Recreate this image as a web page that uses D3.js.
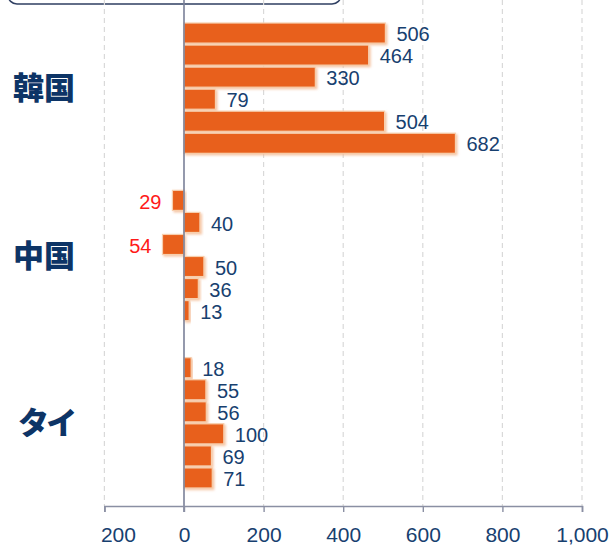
<!DOCTYPE html>
<html><head><meta charset="utf-8">
<script src="https://cdn.jsdelivr.net/npm/d3@7"></script>
<style>body{margin:0;background:#fff}svg{display:block}</style>
</head><body>
<script>
const categories = ["韓国", "中国", "タイ"];
const seriesNames = ["s1", "s2", "s3", "s4", "s5", "s6"];
const koreaValues = [506, 464, 330, 79, 504, 682];
const chinaValues = [-29, 40, -54, 50, 36, 13];
const thaiValues = [18, 55, 56, 100, 69, 71];
const tickValues = [-200, 0, 200, 400, 600, 800, 1000];
const tickLabels = ["200", "0", "200", "400", "600", "800", "1,000"];

const valuesByCategory = [koreaValues, chinaValues, thaiValues];
const data = [];
categories.forEach((c, i) => valuesByCategory[i].forEach((v, j) => data.push({cat: c, s: seriesNames[j], v})));

const W = 611, H = 547;
const svg = d3.select("body").append("svg").attr("width", W).attr("height", H);

const x = d3.scaleLinear().domain([-200, 1000]).range([104.4, 582]);
const yGroup = d3.scaleBand().domain(categories).range([4.5, 506.5]).paddingInner(0.2096).paddingOuter(0.1048);
const yInner = d3.scaleBand().domain(seriesNames).range([0, yGroup.bandwidth()]).paddingInner(0.09).paddingOuter(0.045);
const axisY = 506;

// cut-off legend box
svg.append("rect").attr("x", 8).attr("y", -30).attr("width", 333).attr("height", 34)
  .attr("rx", 9).attr("fill", "none").attr("stroke", "#2f3f62").attr("stroke-width", 1.5);

// gridlines
svg.append("g").selectAll("line").data(tickValues.filter(t => t !== 0)).join("line")
  .attr("x1", d => x(d)).attr("x2", d => x(d)).attr("y1", 0).attr("y2", axisY)
  .attr("stroke", "#d9d9d9").attr("stroke-width", 1.2).attr("stroke-dasharray", "5,4");

// shadow filter
const defs = svg.append("defs");
const f = defs.append("filter").attr("id", "sh").attr("x", "-10%").attr("y", "-20%").attr("width", "130%").attr("height", "160%");
f.append("feDropShadow").attr("dx", 1.5).attr("dy", 1.5).attr("stdDeviation", 1).attr("flood-color", "#f3b890").attr("flood-opacity", 0.8);

// bars
svg.append("g").selectAll("rect").data(data).join("rect")
  .attr("x", d => x(Math.min(0, d.v)))
  .attr("width", d => Math.abs(x(d.v) - x(0)))
  .attr("y", d => yGroup(d.cat) + yInner(d.s))
  .attr("height", yInner.bandwidth())
  .attr("fill", "#E8601A")
  .attr("stroke", "#f7cfae").attr("stroke-width", 1.2)
  .attr("filter", "url(#sh)");

// value labels
svg.append("g").selectAll("text").data(data).join("text")
  .attr("x", d => d.v < 0 ? x(d.v) - 11 : x(d.v) + 11)
  .attr("y", d => yGroup(d.cat) + yInner(d.s) + yInner.bandwidth() / 2 + 1)
  .attr("dy", "0.36em")
  .attr("text-anchor", d => d.v < 0 ? "end" : "start")
  .attr("font-family", "Liberation Sans, Arial, sans-serif")
  .attr("font-size", 20)
  .attr("fill", d => d.v < 0 ? "#ff1a1a" : "#17406f")
  .text(d => d3.format(",")(Math.abs(d.v)));

// zero line
svg.append("line").attr("x1", x(0)).attr("x2", x(0)).attr("y1", 0).attr("y2", axisY + 6)
  .attr("stroke", "#7a8098").attr("stroke-width", 1.6);

// x axis
const xAxis = d3.axisBottom(x).tickValues(tickValues).tickSize(6).tickPadding(15)
  .tickFormat((d, i) => tickLabels[i]);
const gx = svg.append("g").attr("transform", `translate(0,${axisY})`).call(xAxis);
gx.select(".domain").attr("stroke", "#8a8fa3").attr("stroke-width", 1.6);
gx.selectAll(".tick line").attr("stroke", "#8a8fa3").attr("stroke-width", 1.4);
gx.selectAll(".tick text").attr("font-family", "Liberation Sans, Arial, sans-serif")
  .attr("font-size", 21).attr("fill", "#17406f");
gx.selectAll(".tick text").filter((d, i) => i === 0).attr("text-anchor", "start").attr("dx", -4);

// category labels
svg.append("g").selectAll("text").data(categories).join("text")
  .attr("x", 75)
  .attr("y", d => yGroup(d) + yGroup.bandwidth() / 2)
  .attr("dy", "0.36em")
  .attr("text-anchor", "end")
  .attr("font-family", "Noto Sans CJK JP, sans-serif")
  .attr("font-weight", 900)
  .style("font-feature-settings", "'palt' 1")
  .attr("font-size", 31)
  .attr("fill", "#0d3466")
  .text(d => d);
</script>
</body></html>
